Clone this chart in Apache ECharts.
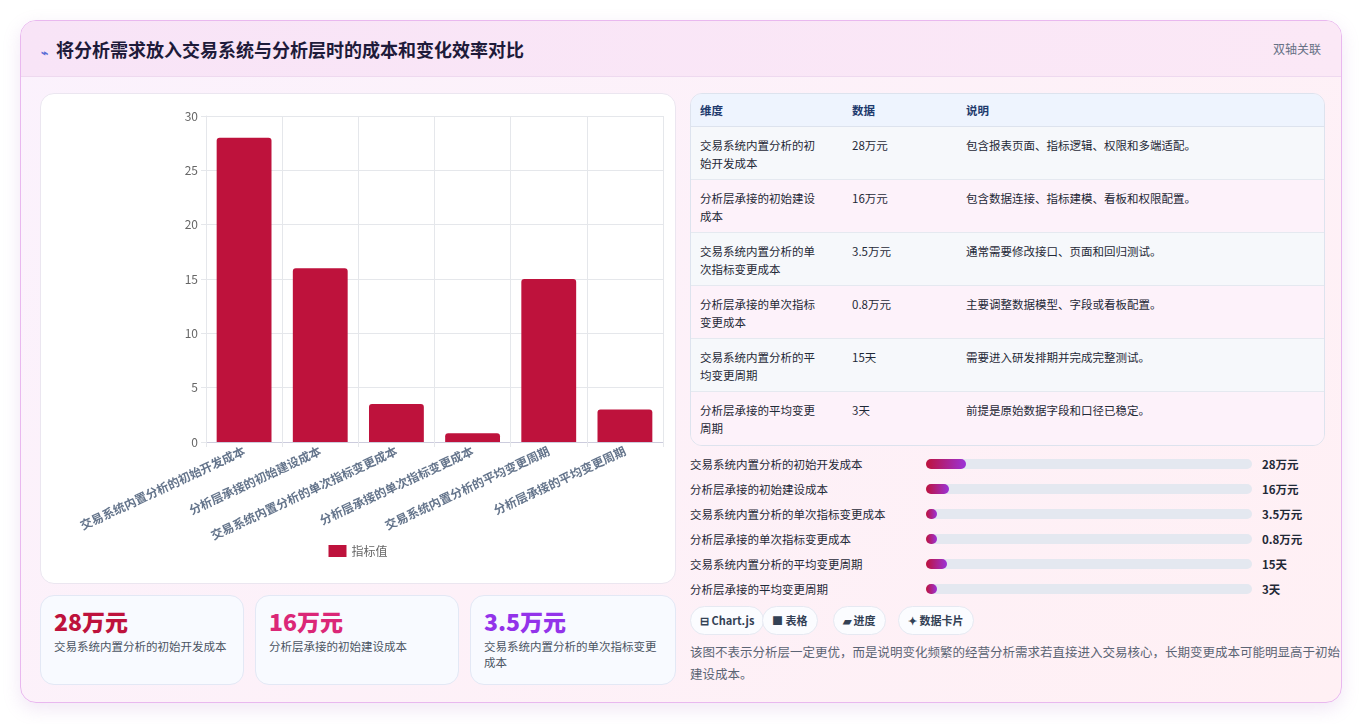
<!DOCTYPE html>
<html><head><meta charset="utf-8">
<script src="https://cdn.jsdelivr.net/npm/echarts@6/dist/echarts.min.js"></script>
<style>
*{box-sizing:border-box;margin:0;padding:0}
body{width:1363px;height:724px;background:#fff;font-family:"Noto Sans CJK SC","Noto Sans",sans-serif;position:relative;overflow:hidden}
.outer{position:absolute;left:20px;top:20px;width:1322px;height:683px;border:1px solid #e9b8ef;border-radius:16px;background:linear-gradient(135deg,#fbf2fd,#fff0f4);box-shadow:0 6px 18px rgba(180,120,200,.18);overflow:hidden}
.head{height:56px;background:linear-gradient(90deg,#f8e4f7,#fbe8f6);border-bottom:1px solid #eed9ef;display:flex;align-items:center;padding:0 20px;justify-content:space-between}
.head h1{font-size:18px;font-weight:700;color:#1e1b3a}
.head h1 span{color:#5b6fd6;font-size:12px;margin-right:8px}
.head .r{font-size:12px;color:#667085}
.chartbox{position:absolute;left:19px;top:72px;width:636px;height:491px;background:#fff;border:1px solid #ebe6f0;border-radius:14px}
#c{width:100%;height:100%}
.card{position:absolute;top:574px;height:90px;background:#f8faff;border:1px solid #e3e8f5;border-radius:14px;padding:10px 13px}
.card .v{font-size:23px;font-weight:800;line-height:30px}
.card .t{font-size:11.5px;color:#4b5563;line-height:16px;margin-top:2px}
table{position:absolute;left:669px;top:72px;width:635px;border-collapse:separate;border-spacing:0;border:1px solid #dde3ee;border-radius:12px;overflow:hidden;font-size:11.5px;color:#1f2937}
th{background:#eef4fe;height:33px;text-align:left;font-weight:700;color:#1e3a6d;padding-left:9px;border-bottom:1px solid #dde3ee}
td{height:53px;vertical-align:top;padding:9px 9px 0;line-height:18px;border-bottom:1px solid #e5e9f0}
tr:nth-child(odd) td{background:#fdf2fa}
tr:nth-child(even) td{background:#f6f8fb}
tr:last-child td{border-bottom:none}
.prog{position:absolute;left:669px;width:640px;height:20px;font-size:11.5px;color:#1f2937}
.prog .l{position:absolute;left:0;top:2px}
.prog .tr{position:absolute;left:236px;top:5px;width:326px;height:10px;background:#e4e8f0;border-radius:5px}
.prog .f{height:10px;border-radius:5px;background:linear-gradient(90deg,#be123c,#9b33d8)}
.prog .vv{position:absolute;left:572px;top:2px;font-weight:700}
.chip{position:absolute;top:585px;height:29px;border:1px solid #e6e9f2;background:#fbfcff;border-radius:15px;font-size:11px;font-weight:700;color:#334155;padding:0 9px;line-height:27px}
.note{position:absolute;left:669px;top:620px;width:650px;font-size:12.5px;line-height:22px;color:#5b6474}
</style></head><body>
<div class="outer">
<div class="head"><h1><span>⌁</span>将分析需求放入交易系统与分析层时的成本和变化效率对比</h1><div class="r">双轴关联</div></div>
<div class="chartbox"><div id="c"></div></div>
<div id="cards"></div>
<table id="tbl"></table>
<div id="progs"></div>
<div class="chip" style="left:669px">⊟ Chart.js</div>
<div class="chip" style="left:741px">■ 表格</div>
<div class="chip" style="left:812px">▰ 进度</div>
<div class="chip" style="left:877px">✦ 数据卡片</div>
<div class="note">该图不表示分析层一定更优，而是说明变化频繁的经营分析需求若直接进入交易核心，长期变更成本可能明显高于初始建设成本。</div>
</div>
<script>
const categories=["交易系统内置分析的初始开发成本","分析层承接的初始建设成本","交易系统内置分析的单次指标变更成本","分析层承接的单次指标变更成本","交易系统内置分析的平均变更周期","分析层承接的平均变更周期"];
const values=[28,16,3.5,0.8,15,3];
const units=["万元","万元","万元","万元","天","天"];
const tableLabels=["交易系统内置分析的初始开发成本","分析层承接的初始建设成本","交易系统内置分析的单次指标变更成本","分析层承接的单次指标变更成本","交易系统内置分析的平均变更周期","分析层承接的平均变更周期"];
const notes=["包含报表页面、指标逻辑、权限和多端适配。","包含数据连接、指标建模、看板和权限配置。","通常需要修改接口、页面和回归测试。","主要调整数据模型、字段或看板配置。","需要进入研发排期并完成完整测试。","前提是原始数据字段和口径已稳定。"];
const cardColors=["#be123c","#db2777","#9333ea"];

let th='<tr><th style="width:152px">维度</th><th style="width:114px">数据</th><th>说明</th></tr>';
categories.forEach((c,i)=>{th+=`<tr><td style="padding-right:20px">${c}</td><td>${values[i]}${units[i]}</td><td>${notes[i]}</td></tr>`});
document.getElementById('tbl').innerHTML=th;
let ph='';
categories.forEach((c,i)=>{const w=Math.max(3.5,values[i]/230*100);ph+=`<div class="prog" style="top:${433+i*25}px"><span class="l">${c}</span><div class="tr"><div class="f" style="width:${w}%"></div></div><span class="vv">${values[i]}${units[i]}</span></div>`});
document.getElementById('progs').innerHTML=ph;
let ch='';const lefts=[19,234,449];
for(let i=0;i<3;i++){ch+=`<div class="card" style="left:${lefts[i]}px;width:${i==2?206:204}px"><div class="v" style="color:${cardColors[i]}">${values[i]}${units[i]}</div><div class="t">${categories[i]}</div></div>`}
document.getElementById('cards').innerHTML=ch;

const chart=echarts.init(document.getElementById('c'));
chart.setOption({
 textStyle:{fontFamily:'"Noto Sans CJK SC",sans-serif'},
 grid:{left:165,right:12,top:22,bottom:141},
 legend:{bottom:21,itemWidth:18,itemHeight:12,icon:'rect',textStyle:{color:'#666',fontSize:12},data:['指标值']},
 xAxis:{type:'category',data:categories,axisLine:{lineStyle:{color:'#ccd'}},axisTick:{show:true,lineStyle:{color:'#e5e7eb'}},splitLine:{show:true,lineStyle:{color:'#e5e7eb'}},
   axisLabel:{interval:0,rotate:25,color:'#64748b',fontSize:12,fontWeight:'bold',margin:8}},
 yAxis:{type:'value',min:0,max:30,interval:5,axisLine:{show:true,lineStyle:{color:'#e5e7eb'}},axisTick:{show:true,lineStyle:{color:'#e5e7eb'}},splitLine:{lineStyle:{color:'#e5e7eb'}},axisLabel:{color:'#666',fontSize:12}},
 series:[{name:'指标值',type:'bar',data:values,barWidth:'72%',itemStyle:{color:'#be123c',borderRadius:[3,3,0,0]}}]
});
</script>
</body></html>
